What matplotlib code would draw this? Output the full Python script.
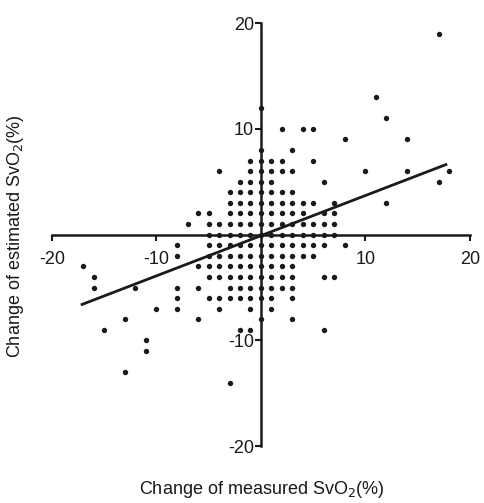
import numpy as np
import matplotlib.pyplot as plt

plt.rcParams['font.family'] = ['Liberation Sans', 'DejaVu Sans']

# Perubahan SvO2 terukur (x) dan estimasi (y)
x_meas = [17,
          11,
          0,
          12,
          2, 4, 5,
          8, 14,
          0, 3,
          -1, 0, 1, 2, 5,
          -4, -1, 0, 1, 2, 3, 10, 14, 18,
          -2, -1, 0, 1, 6, 17,
          -3, -2, -1, 0, 1, 2, 3,
          -3, -2, -1, 0, 1, 2, 3, 4, 5, 7, 12,
          -6, -5, -3, -2, -1, 0, 1, 2, 3, 4, 6, 7,
          -7, -5, -4, -3, -2, -1, 0, 1, 2, 3, 4, 5, 6, 7,
          -5, -4, -3, -2, -1, 0, 1, 2, 3, 4, 5, 6, 7,
          -8, -5, -4, -3, -2, -1, 0, 1, 2, 3, 4, 5, 6, 8,
          -8, -5, -4, -3, -2, -1, 0, 1, 2, 3, 4, 5,
          -17, -6, -5, -4, -3, -2, -1, 0, 1, 2, 3,
          -16, -5, -4, -3, -2, -1, 0, 1, 2, 3, 6, 7,
          -16, -12, -8, -6, -3, -2, -1, 0, 1, 2, 3,
          -8, -5, -4, -3, -2, -1, 0, 1, 3,
          -10, -8, -4, -1, 1,
          -13, -6, 0, 3,
          -15, -2, -1, 6,
          -11,
          -11,
          -13,
          -3]
y_est = [19,
         13,
         12,
         11,
         10, 10, 10,
         9, 9,
         8, 8,
         7, 7, 7, 7, 7,
         6, 6, 6, 6, 6, 6, 6, 6, 6,
         5, 5, 5, 5, 5, 5,
         4, 4, 4, 4, 4, 4, 4,
         3, 3, 3, 3, 3, 3, 3, 3, 3, 3, 3,
         2, 2, 2, 2, 2, 2, 2, 2, 2, 2, 2, 2,
         1, 1, 1, 1, 1, 1, 1, 1, 1, 1, 1, 1, 1, 1,
         0, 0, 0, 0, 0, 0, 0, 0, 0, 0, 0, 0, 0,
         -1, -1, -1, -1, -1, -1, -1, -1, -1, -1, -1, -1, -1, -1,
         -2, -2, -2, -2, -2, -2, -2, -2, -2, -2, -2, -2,
         -3, -3, -3, -3, -3, -3, -3, -3, -3, -3, -3,
         -4, -4, -4, -4, -4, -4, -4, -4, -4, -4, -4, -4,
         -5, -5, -5, -5, -5, -5, -5, -5, -5, -5, -5,
         -6, -6, -6, -6, -6, -6, -6, -6, -6,
         -7, -7, -7, -7, -7,
         -8, -8, -8, -8,
         -9, -9, -9, -9,
         -10,
         -11,
         -13,
         -14]

# Garis regresi
slope = 0.38
intercept = -0.1
x_line = [-17.1, 17.7]

fig = plt.figure(figsize=(4.84, 5.03), dpi=100)
ax = fig.add_axes([0.107, 0.113, 0.864, 0.841])

ax.scatter(x_meas, y_est, s=15, color='#1a1a1a', linewidths=0, zorder=3)
xl = np.array(x_line)
ax.plot(xl, slope * xl + intercept, color='#1a1a1a', lw=2.0, zorder=4)

ax.set_xlim(-20, 20)
ax.set_ylim(-20, 20)

for s in ['top', 'right']:
    ax.spines[s].set_visible(False)
ax.spines['left'].set_position(('data', 0))
ax.spines['bottom'].set_position(('data', 0))
ax.spines['left'].set_linewidth(1.8)
ax.spines['bottom'].set_linewidth(1.8)
ax.spines['left'].set_color('#1a1a1a')
ax.spines['bottom'].set_color('#1a1a1a')

ax.set_xticks([-20, -10, 10, 20])
ax.set_yticks([-20, -10, 10, 20])
ax.set_xticklabels(['-20', '-10', '10', '20'])
ax.set_yticklabels(['-20', '-10', '10', '20'])
ax.tick_params(axis='x', direction='out', length=4, width=1.5, pad=8,
               labelsize=13, colors='#1a1a1a')
ax.tick_params(axis='y', direction='out', length=4, width=1.5, pad=1,
               labelsize=13, colors='#1a1a1a')

fig.text(0.54, 0.026, 'Change of measured SvO$_2$(%)', ha='center',
         va='center', fontsize=13, color='#1a1a1a')
fig.text(0.032, 0.53, 'Change of estimated SvO$_2$(%)', ha='center',
         va='center', rotation=90, fontsize=13, color='#1a1a1a')

fig.savefig('out.png', dpi=100)
